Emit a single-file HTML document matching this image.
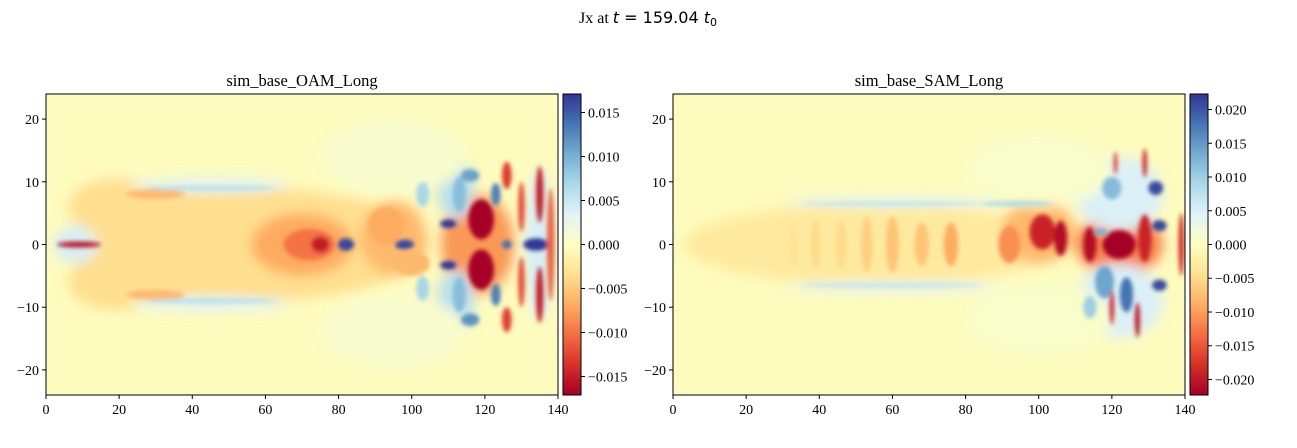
<!DOCTYPE html>
<html><head><meta charset="utf-8">
<style>
html,body{margin:0;padding:0;background:#fff;}
svg{display:block;}
text{font-family:"Liberation Serif",serif;font-size:14px;fill:#000;}
.m{font-family:"DejaVu Sans",sans-serif;}
</style></head>
<body>
<svg id="fig" width="1297" height="448" viewBox="0 0 1297 448" xmlns="http://www.w3.org/2000/svg">
<defs>
<filter id="blurS" x="-50%" y="-50%" width="200%" height="200%"><feGaussianBlur stdDeviation="2.2"/></filter>
<filter id="blurL" x="-50%" y="-50%" width="200%" height="200%"><feGaussianBlur stdDeviation="6"/></filter>
<clipPath id="clipL"><rect x="46" y="94" width="512" height="301"/></clipPath>
<clipPath id="clipR"><rect x="673" y="94" width="512" height="301"/></clipPath>
<linearGradient id="cbar" x1="0" y1="1" x2="0" y2="0">
<stop offset="0" stop-color="#a50026"/><stop offset="0.1" stop-color="#d73027"/><stop offset="0.2" stop-color="#f46d43"/><stop offset="0.3" stop-color="#fdae61"/><stop offset="0.4" stop-color="#fee090"/><stop offset="0.5" stop-color="#ffffbf"/><stop offset="0.6" stop-color="#e0f3f8"/><stop offset="0.7" stop-color="#abd9e9"/><stop offset="0.8" stop-color="#74add1"/><stop offset="0.9" stop-color="#4575b4"/><stop offset="1" stop-color="#313695"/>
</linearGradient>
</defs>
<text x="648" y="23" text-anchor="middle" font-size="16" style="font-size:16px">Jx at <tspan class="m" font-style="italic">t</tspan><tspan class="m"> = 159.04 </tspan><tspan class="m" font-style="italic">t</tspan><tspan class="m" style="font-size:11px" dy="3">0</tspan></text>
<g id="gL"></g>
<g id="gR"></g>
</svg>
<script>
// panel data (x in [0,140], y in [-24,24]); blobs: [x, y, rx, ry, value]
const xTicks = [0,20,40,60,80,100,120,140];
const yTicks = [20,10,0,-10,-20];
const cbTicksL = [0.015,0.010,0.005,0.000,-0.005,-0.010,-0.015];
const cbTicksR = [0.020,0.015,0.010,0.005,0.000,-0.005,-0.010,-0.015,-0.020];
const vmaxL = 0.0171;
const vmaxR = 0.0223;
const blobsLwide = [
 [55,0,50,9,-0.0035],[20,6,14,4.5,-0.0035],[20,-6,14,4.5,-0.0035],[8,0,6,3,0.004],
 [70,0,14,5,-0.007],[95,1,9,6,-0.006],[118,0,10,8,-0.008],[45,9.5,22,1.2,0.003],[45,-9.5,22,1.2,0.003],
 [112,9,5,5,0.006],[112,-9,5,5,0.006],[135,0,4,12,0.004],[95,14,20,6,0.0008],[95,-14,20,6,0.0008]
];
const blobsL = [
 [9,0,6,0.45,-0.016],[30,8,8,0.8,-0.006],[30,-8,8,0.8,-0.006],
 [45,9,18,0.4,0.006],[45,-9,18,0.4,0.006],[72,0,7,2.5,-0.01],[75,0,2.5,1.3,-0.015],
 [82,0,2.2,1,0.016],[98,0,2.6,0.8,0.016],[93,3,5,3,-0.007],[100,-3,5,2,-0.006],
 [119,4,3.5,3.2,-0.017],[119,-4,3.5,3.2,-0.017],[110,3.3,2.2,0.7,0.017],[110,-3.3,2.2,0.7,0.017],
 [113,8,1.8,2.8,0.009],[113,-8,1.8,2.8,0.009],[116,-12,2.5,1,0.012],[116,11,2.5,1,0.011],
 [134,0,3.5,1,0.017],[126,0,1.3,0.7,0.014],[135,8,1,4.5,-0.015],[135,-8,1,4.5,-0.015],
 [126,11,1.3,2.2,-0.013],[126,-12,1.3,2,-0.013],[130,6,0.9,4,-0.012],[130,-6,0.9,4,-0.012],
 [123,8,1.3,1.8,0.013],[123,-8,1.3,1.8,0.013],[138,0,1,9,-0.011],[103,8,1.8,2,0.007],[103,-7,1.8,2,0.007]
];
const blobsRwide = [
 [55,0,52,6.5,-0.003],[60,6.8,30,0.8,0.004],[60,-6.8,30,0.8,0.004],[100,2,10,5,-0.008],
 [122,0,12,5,-0.012],[122,8,12,6,0.005],[122,-9,12,6,0.005],[100,-12,20,6,0.0008],[100,12,20,6,0.0008]
];
const blobsR = [
 [33,0,1.3,4,-0.004],[39,0,1.3,4,-0.005],[46,0,1.5,4,-0.005],[53,0,1.6,4.5,-0.006],
 [60,0,1.8,4.5,-0.007],[68,0,2,3.5,-0.007],[76,0,2,3.5,-0.009],[92,0,3,3,-0.011],
 [101,2,3.5,2.8,-0.019],[106,1,1.8,2.8,-0.021],[114,0,1.8,2.8,-0.021],[122,0,4.5,2.3,-0.023],[129,1,1.8,3.8,-0.019],
 [94,6.5,10,0.4,0.009],[60,6.5,25,0.35,0.007],[60,-6.5,25,0.35,0.007],[117,2,1.8,0.5,0.013],
 [118,-6,2.6,2.6,0.014],[124,-8,1.8,2.8,0.018],[133,-6.5,2,0.9,0.021],[132,9,2,1.1,0.021],[133,3,2,0.9,0.021],
 [120,9,2.6,1.8,0.012],[114,-10,1.8,1.8,0.01],[127,-12,0.7,2.8,-0.02],[129,13,0.6,2.3,-0.019],
 [121,13,0.5,1.8,-0.017],[120,-10,0.6,2.8,-0.019],[139,0,0.8,5,-0.018]
];
const stops = ['#a50026','#d73027','#f46d43','#fdae61','#fee090','#ffffbf','#e0f3f8','#abd9e9','#74add1','#4575b4','#313695'];
function hex(c){return [1,3,5].map(i=>parseInt(c.substr(i,2),16));}
function cmap(v,vmax){let t=(v/vmax+1)/2;t=Math.max(0,Math.min(1,t))*10;const i=Math.min(9,Math.floor(t)),f=t-i;const a=hex(stops[i]),b=hex(stops[i+1]);return 'rgb('+a.map((x,k)=>Math.round(x+(b[k]-x)*f)).join(',')+')';}
const NS='http://www.w3.org/2000/svg';
function mk(tag,attrs,parent){const e=document.createElementNS(NS,tag);for(const k in attrs)e.setAttribute(k,attrs[k]);parent.appendChild(e);return e;}
function panel(g,x0,title,vmax,wide,blobs,cbTicks,cid,nm){
 const W=512,H=301,y0=94;
 const sx=v=>x0+v/140*W, sy=v=>y0+(24-v)/48*H;
 const t=mk('text',{x:x0+W/2,y:86,'text-anchor':'middle',style:'font-size:16.5px'},g);t.textContent=title;
 
 
 const area=mk('g',{'clip-path':'url(#'+cid+')'},g);
 
 
 mk('rect',{x:x0,y:y0,width:W,height:H,fill:'#fdfbbd'},area);
 const gw=mk('g',{filter:'url(#blurL)'},area);
 wide.forEach(b=>{const e=mk('ellipse',{cx:sx(b[0]),cy:sy(b[1]),rx:b[2]/140*W,ry:b[3]/48*H,fill:cmap(b[4],vmax)},gw);
  
  });
 const gs=mk('g',{filter:'url(#blurS)'},area);
 blobs.forEach(b=>{const e=mk('ellipse',{cx:sx(b[0]),cy:sy(b[1]),rx:b[2]/140*W,ry:b[3]/48*H,fill:cmap(b[4],vmax)},gs);
  
  });
 const fr=mk('rect',{x:x0,y:y0,width:W,height:H,fill:'none',stroke:'#000','stroke-width':1},g);
 
 
 xTicks.forEach(v=>{mk('line',{x1:sx(v),x2:sx(v),y1:y0+H,y2:y0+H+4,stroke:'#000'},g);
  const l=mk('text',{x:sx(v),y:y0+H+19,'text-anchor':'middle'},g);l.textContent=v;
  
  });
 yTicks.forEach(v=>{mk('line',{x1:x0-4,x2:x0,y1:sy(v),y2:sy(v),stroke:'#000'},g);
  const l=mk('text',{x:x0-7,y:sy(v)+5,'text-anchor':'end'},g);l.textContent=(v<0?'\u2212'+(-v):v);
  
  });
 const cx=x0+W+5,cw=18;
 const cb=mk('rect',{x:cx,y:y0,width:cw,height:H,fill:'url(#cbar)',stroke:'#000','stroke-width':1},g);
 
 
 cbTicks.forEach(v=>{const y=y0+H/2-v/vmax*H/2;mk('line',{x1:cx+cw,x2:cx+cw+4,y1:y,y2:y,stroke:'#000'},g);
  const l=mk('text',{x:cx+cw+7,y:y+5},g);l.textContent=(v<0?'\u2212':'')+Math.abs(v).toFixed(3);
  
  });
}
panel(document.getElementById('gL'),46,'sim_base_OAM_Long',vmaxL,blobsLwide,blobsL,cbTicksL,'clipL','oam-panel');
panel(document.getElementById('gR'),673,'sim_base_SAM_Long',vmaxR,blobsRwide,blobsR,cbTicksR,'clipR','sam-panel');
</script>
</body></html>
